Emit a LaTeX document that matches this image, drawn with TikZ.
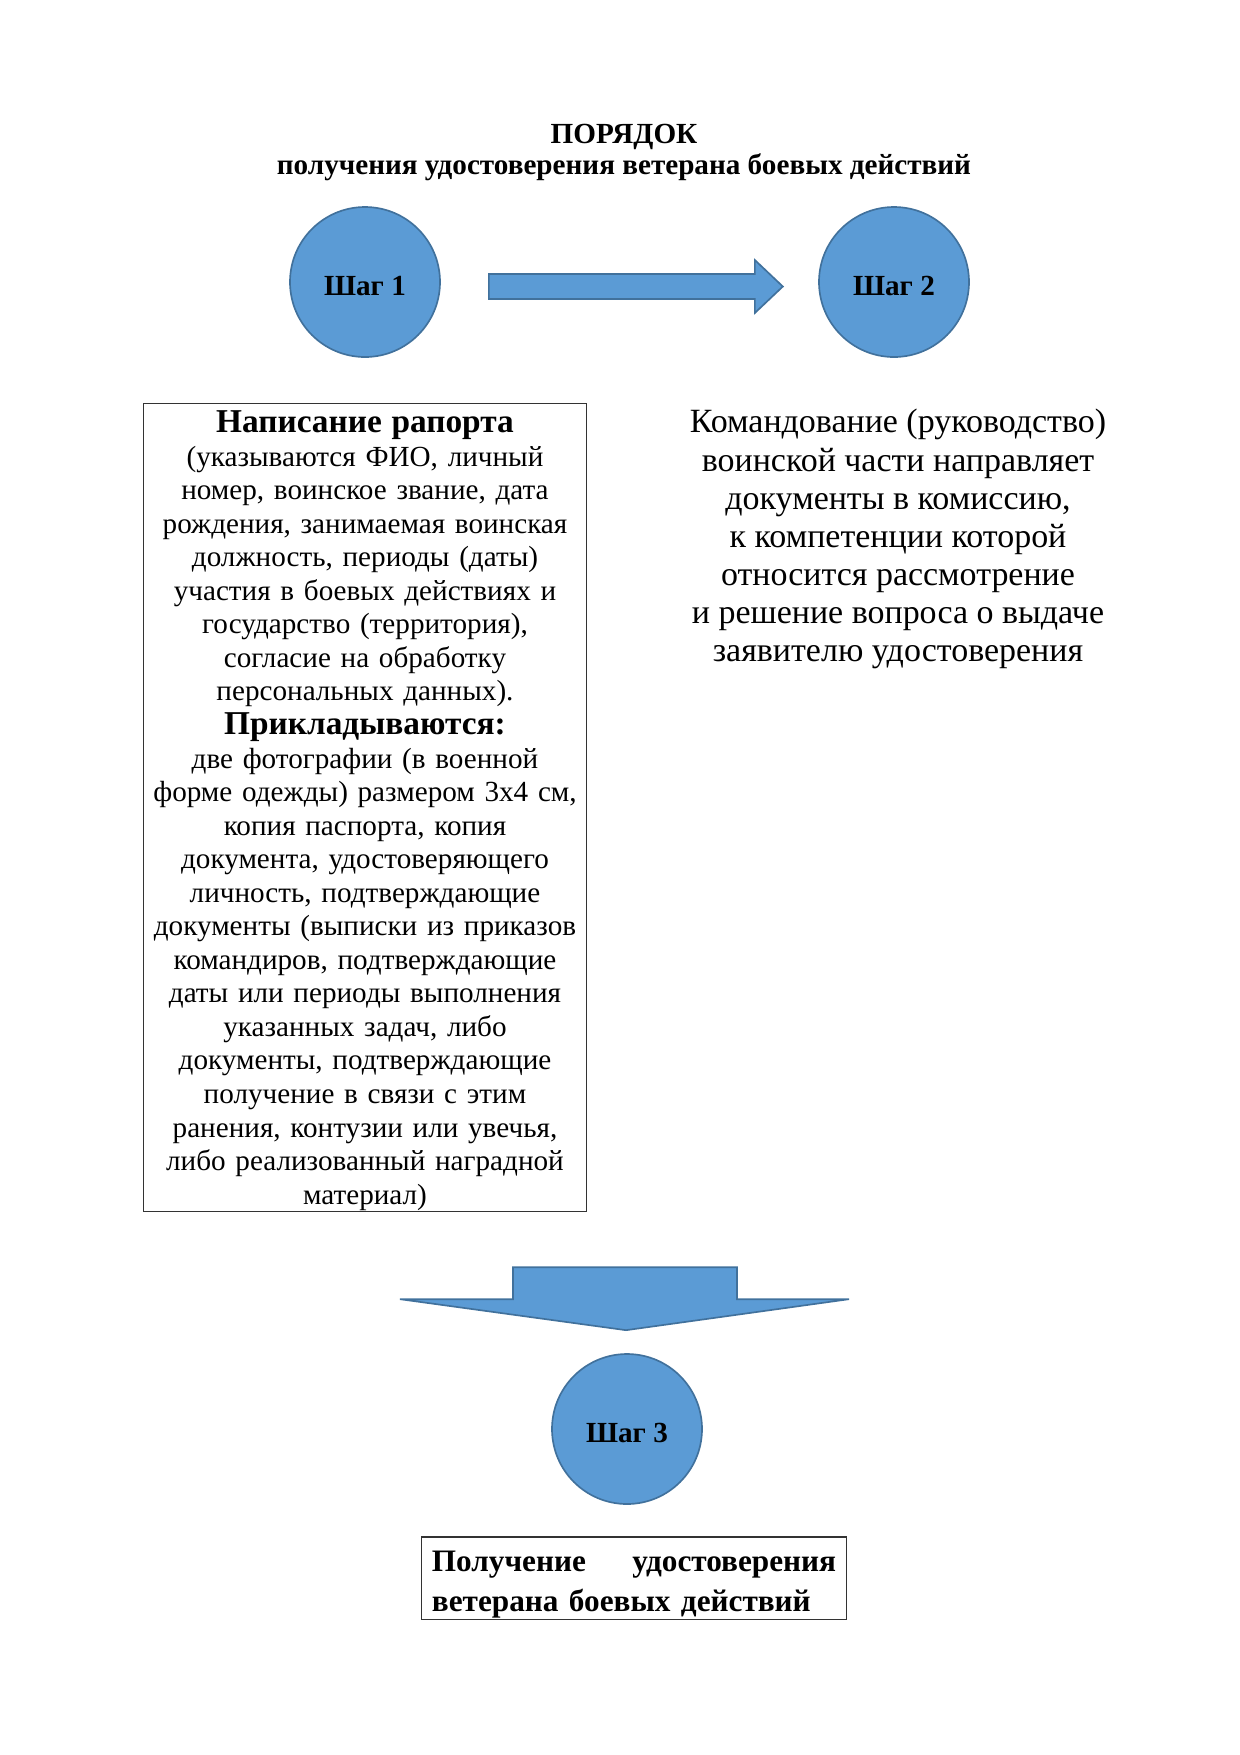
\documentclass[tikz,border=0pt]{standalone}
\usepackage{fontspec}
\setmainfont{Liberation Serif}
\usetikzlibrary{positioning}
\definecolor{stepblue}{RGB}{91,155,213}
\definecolor{stepedge}{RGB}{65,113,156}

\begin{document}
\begin{tikzpicture}[x=0.48pt, y=-0.48pt,
    stepnode/.style={circle, draw=stepedge, fill=stepblue, line width=0.8pt, minimum size=72pt, inner sep=0pt, text height=13pt, text depth=0pt, font=\fontsize{14}{16}\selectfont\bfseries},
    bigarrow/.style={draw=stepedge, fill=stepblue, line width=0.8pt},
    textbox/.style={draw=black!80, line width=0.5pt, inner sep=0pt}]
    \useasboundingbox (0,0) rectangle (1240,1755);

    % Title
    \node (title) [align=center, font=\fontsize{14}{14.5}\selectfont\bfseries] at (624,152.5) {ПОРЯДОК\\получения удостоверения ветерана боевых действий};

    % Steps
    \node (step1) [stepnode] at (365,282) {Шаг 1};
    \node (step2) [stepnode] at (894,282) {Шаг 2};
    \node (step3) [stepnode] at (627,1429) {Шаг 3};

    % Descriptions
    \node (report) [textbox, below=21.6pt of step1, text width=213pt, minimum height=388pt, align=center, font=\fontsize{14}{16.1}\selectfont] {\rule{0pt}{13.4pt}{\fontsize{16}{16.1}\selectfont\bfseries Написание рапорта}\\
        (указываются ФИО, личный\\
        номер, воинское звание, дата\\
        рождения, занимаемая воинская\\
        должность, периоды (даты)\\
        участия в боевых действиях и\\
        государство (территория),\\
        согласие на обработку\\
        персональных данных).\\
        {\fontsize{16}{16.1}\selectfont\bfseries Прикладываются:}\\
        две фотографии (в военной\\
        форме одежды) размером 3х4 см,\\
        копия паспорта, копия\\
        документа, удостоверяющего\\
        личность, подтверждающие\\
        документы (выписки из приказов\\
        командиров, подтверждающие\\
        даты или периоды выполнения\\
        указанных задач, либо\\
        документы, подтверждающие\\
        получение в связи с этим\\
        ранения, контузии или увечья,\\
        либо реализованный наградной\\
        материал)};
    \node (command) [anchor=north, align=center, font=\fontsize{16.3}{18.3}\selectfont] at (898,402) {Командование (руководство)\\
        воинской части направляет\\
        документы в комиссию,\\
        к компетенции которой\\
        относится рассмотрение\\
        и решение вопроса о выдаче\\
        заявителю удостоверения};
    \node (result) [textbox, text width=194pt, minimum width=204pt, minimum height=39.4pt, align=left, font=\fontsize{15}{19}\selectfont\bfseries] at (634,1578) {\rule{0pt}{16pt}Получение\hfill удостоверения\\ветерана боевых действий};

    % Arrows
    \draw[bigarrow] (step1.east) ++(48,-8) -- ++(266,0) -- ++(0,-14) -- ++(28,26.5) -- ++(-28,26.5) -- ++(0,-14) -- ++(-266,0) -- cycle;
    \draw[bigarrow] (step3.north) ++(-114,-86) -- ++(224,0) -- ++(0,32) -- ++(112,0) -- ++(-223,31) -- ++(-226,-31) -- ++(113,0) -- cycle;
\end{tikzpicture}
\end{document}
